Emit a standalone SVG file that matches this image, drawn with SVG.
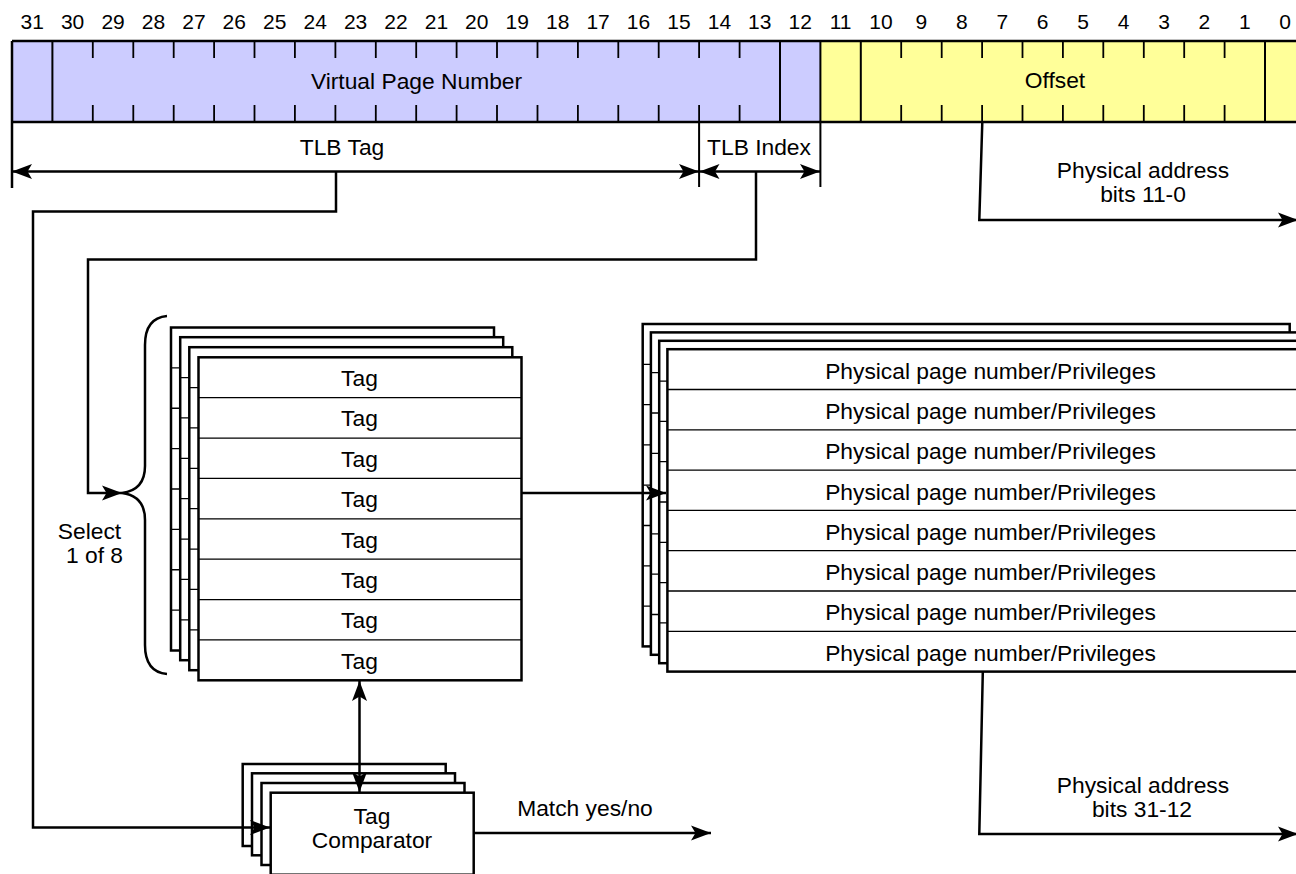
<svg xmlns="http://www.w3.org/2000/svg" xmlns:xlink="http://www.w3.org/1999/xlink" width="1296" height="874" viewBox="0 0 1296 874">
<style>
text{font-family:"Liberation Sans",Arial,sans-serif;fill:#000}
.lbl{font-size:22.8px;text-anchor:middle}
.bit{font-size:21px;text-anchor:middle}
.ln{stroke:#000;stroke-width:2.5;fill:none}
.div{stroke:#000;stroke-width:2;fill:none}
.tick{stroke:#000;stroke-width:1.8}
.box{fill:#fff;stroke:#000;stroke-width:2.5}
.row{stroke:#000;stroke-width:1.3}
.conn{stroke:#000;stroke-width:2.5;fill:none}
</style>
<defs>
<marker id="ah" viewBox="0 0 22 16" refX="20" refY="8" markerWidth="22" markerHeight="16" markerUnits="userSpaceOnUse" orient="auto-start-reverse">
<path d="M0,0.5 L20,8 L0,15.5 L4.5,8 Z" fill="#000"/>
</marker>
<g id="tagLayer">
<rect class="box" x="0" y="0" width="323" height="323"/>
<path class="row" d="M0,40.4H323M0,80.75H323M0,121.1H323M0,161.5H323M0,201.9H323M0,242.25H323M0,282.6H323"/>
</g>
<g id="ppnLayer">
<rect class="box" x="0" y="0" width="647" height="322.4"/>
<path class="row" d="M0,40.3H647M0,80.6H647M0,120.9H647M0,161.2H647M0,201.5H647M0,241.8H647M0,282.1H647"/>
</g>
<rect id="cmpLayer" class="box" x="0" y="0" width="203" height="82"/>
</defs>
<rect width="1296" height="874" fill="#fff"/>

<g id="bit-numbers">
<text class="bit" x="32.2" y="29">31</text><text class="bit" x="72.6" y="29">30</text><text class="bit" x="113.1" y="29">29</text><text class="bit" x="153.5" y="29">28</text><text class="bit" x="193.9" y="29">27</text><text class="bit" x="234.3" y="29">26</text><text class="bit" x="274.7" y="29">25</text><text class="bit" x="315.2" y="29">24</text><text class="bit" x="355.6" y="29">23</text><text class="bit" x="396" y="29">22</text><text class="bit" x="436.4" y="29">21</text><text class="bit" x="476.8" y="29">20</text><text class="bit" x="517.3" y="29">19</text><text class="bit" x="557.7" y="29">18</text><text class="bit" x="598.1" y="29">17</text><text class="bit" x="638.5" y="29">16</text><text class="bit" x="678.9" y="29">15</text><text class="bit" x="719.4" y="29">14</text><text class="bit" x="759.8" y="29">13</text><text class="bit" x="800.2" y="29">12</text><text class="bit" x="840.6" y="29">11</text><text class="bit" x="881" y="29">10</text><text class="bit" x="921.4" y="29">9</text><text class="bit" x="961.9" y="29">8</text><text class="bit" x="1002.3" y="29">7</text><text class="bit" x="1042.7" y="29">6</text><text class="bit" x="1083.1" y="29">5</text><text class="bit" x="1123.5" y="29">4</text><text class="bit" x="1164" y="29">3</text><text class="bit" x="1204.4" y="29">2</text><text class="bit" x="1244.8" y="29">1</text><text class="bit" x="1285.2" y="29">0</text>
</g>

<g id="virtual-page-number">
<rect x="12" y="41" width="808.4" height="81" fill="#ccccff"/>
<text class="lbl" x="416.5" y="89">Virtual Page Number</text>
</g>
<g id="offset">
<rect x="820.4" y="41" width="490" height="81" fill="#ffff99"/>
<text class="lbl" x="1055" y="88">Offset</text>
</g>
<g id="register-lines">
<path class="ln" d="M12,41H1300M12,122H1300M12,41V188"/>
<path class="div" d="M52.4,41V122M780,41V122M820.4,41V187M860.8,41V122M1265,41V122M699.1,122V187"/>
<path class="tick" d="M92.8,41V58M92.8,105V122M133.3,41V58M133.3,105V122M173.7,41V58M173.7,105V122M214.1,41V58M214.1,105V122M254.5,41V58M254.5,105V122M294.9,41V58M294.9,105V122M335.4,41V58M335.4,105V122M375.8,41V58M375.8,105V122M416.2,41V58M416.2,105V122M456.6,41V58M456.6,105V122M497,41V58M497,105V122M537.5,41V58M537.5,105V122M577.9,41V58M577.9,105V122M618.3,41V58M618.3,105V122M658.7,41V58M658.7,105V122M699.1,41V58M699.1,105V122M739.6,41V58M739.6,105V122M901.2,41V58M901.2,105V122M941.7,41V58M941.7,105V122M982.1,41V58M982.1,105V122M1022.5,41V58M1022.5,105V122M1062.9,41V58M1062.9,105V122M1103.3,41V58M1103.3,105V122M1143.8,41V58M1143.8,105V122M1184.2,41V58M1184.2,105V122M1224.6,41V58M1224.6,105V122"/>
</g>

<g id="field-labels">
<text class="lbl" x="342" y="155">TLB Tag</text>
<text class="lbl" x="759" y="155">TLB Index</text>
<text class="lbl" x="1143" y="178">Physical address</text>
<text class="lbl" x="1143" y="202">bits 11-0</text>
<text class="lbl" x="1143" y="793">Physical address</text>
<text class="lbl" x="1142" y="817">bits 31-12</text>
<text class="lbl" x="585" y="816">Match yes/no</text>
</g>

<g id="select-brace">
<path class="ln" d="M167,316 Q145,318 145,345 L145,466 Q145,490 122,493 Q145,496 145,520 L145,645 Q145,672 167,674"/>
<text class="lbl" x="89.5" y="539">Select</text>
<text class="lbl" x="94.5" y="563">1 of 8</text>
</g>

<g id="tag-array">
<use xlink:href="#tagLayer" x="171" y="327.5"/>
<use xlink:href="#tagLayer" x="180.2" y="337.2"/>
<use xlink:href="#tagLayer" x="189.3" y="347.2"/>
<use xlink:href="#tagLayer" x="198.5" y="357.3"/>
<text class="lbl" x="359.5" y="386">Tag</text>
<text class="lbl" x="359.5" y="426.4">Tag</text>
<text class="lbl" x="359.5" y="466.8">Tag</text>
<text class="lbl" x="359.5" y="507.1">Tag</text>
<text class="lbl" x="359.5" y="547.5">Tag</text>
<text class="lbl" x="359.5" y="587.9">Tag</text>
<text class="lbl" x="359.5" y="628.3">Tag</text>
<text class="lbl" x="359.5" y="668.6">Tag</text>
</g>

<g id="ppn-array">
<use xlink:href="#ppnLayer" x="642.7" y="324"/>
<use xlink:href="#ppnLayer" x="650.9" y="332.4"/>
<use xlink:href="#ppnLayer" x="659.2" y="340.8"/>
<use xlink:href="#ppnLayer" x="667.4" y="349.2"/>
<text class="lbl" x="990.5" y="378.6">Physical page number/Privileges</text>
<text class="lbl" x="990.5" y="418.9">Physical page number/Privileges</text>
<text class="lbl" x="990.5" y="459.2">Physical page number/Privileges</text>
<text class="lbl" x="990.5" y="499.5">Physical page number/Privileges</text>
<text class="lbl" x="990.5" y="539.8">Physical page number/Privileges</text>
<text class="lbl" x="990.5" y="580.1">Physical page number/Privileges</text>
<text class="lbl" x="990.5" y="620.4">Physical page number/Privileges</text>
<text class="lbl" x="990.5" y="660.7">Physical page number/Privileges</text>
</g>

<g id="tag-comparator">
<use xlink:href="#cmpLayer" x="242.7" y="764"/>
<use xlink:href="#cmpLayer" x="252" y="773.3"/>
<use xlink:href="#cmpLayer" x="261.5" y="783"/>
<use xlink:href="#cmpLayer" x="270.7" y="792.7"/>
<text class="lbl" x="372" y="823.5">Tag</text>
<text class="lbl" x="372" y="848">Comparator</text>
</g>

<g id="connectors">
<line class="conn" x1="12" y1="171.5" x2="699" y2="171.5" marker-start="url(#ah)" marker-end="url(#ah)"/>
<line class="conn" x1="699.5" y1="171.5" x2="820" y2="171.5" marker-start="url(#ah)" marker-end="url(#ah)"/>
<polyline class="conn" points="336,171.5 336,211.5 33,211.5 33,827.5 270,827.5" marker-end="url(#ah)"/>
<polyline class="conn" points="756,171.5 756,259.5 88,259.5 88,493 122,493" marker-end="url(#ah)"/>
<line class="conn" x1="521.5" y1="493" x2="666" y2="493" marker-end="url(#ah)"/>
<line class="conn" x1="359.5" y1="681" x2="359.5" y2="792" marker-start="url(#ah)" marker-end="url(#ah)"/>
<line class="conn" x1="473.7" y1="833" x2="711" y2="833" marker-end="url(#ah)"/>
<polyline class="conn" points="982.3,122 979.3,220 1298,220" marker-end="url(#ah)"/>
<polyline class="conn" points="982.8,672 979.3,834 1298,834" marker-end="url(#ah)"/>
</g>
</svg>
